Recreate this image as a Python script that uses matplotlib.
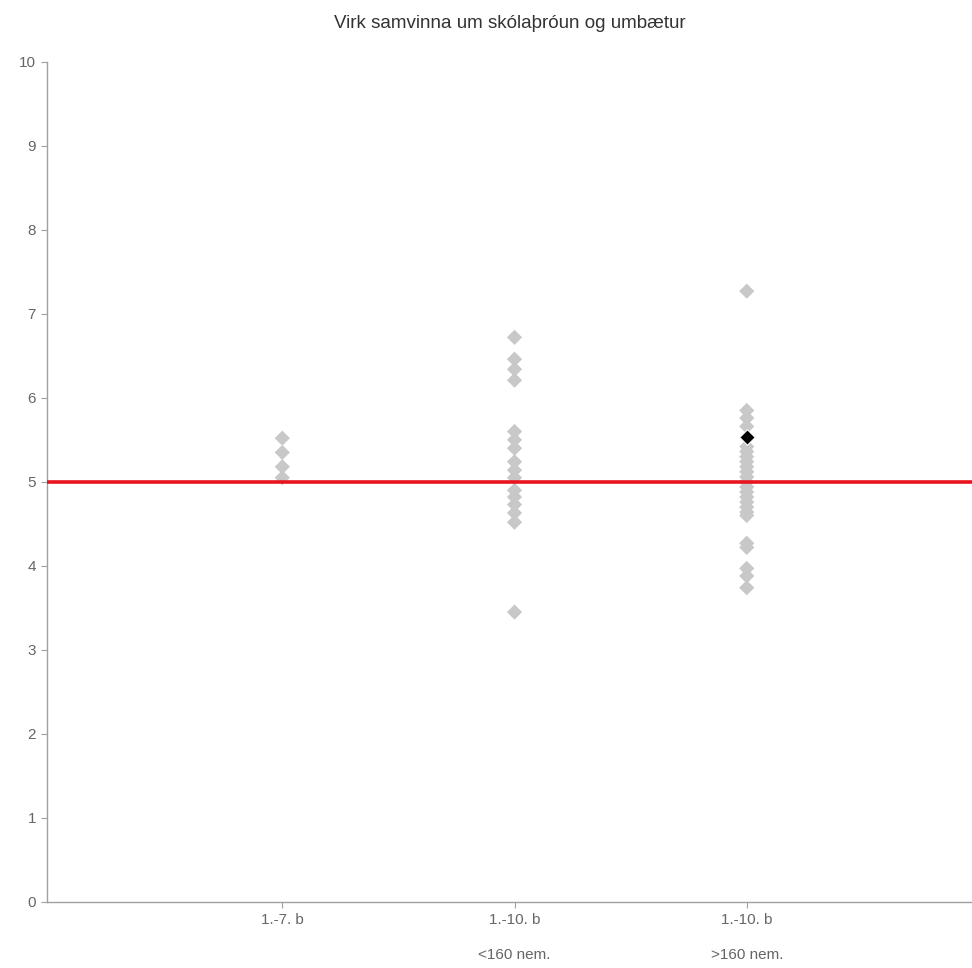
import numpy as np
import matplotlib.pyplot as plt

plt.rcParams['font.family'] = ['Liberation Sans', 'DejaVu Sans']

# category labels on the x axis
categories = ['1.-7. b', '1.-10. b\n<160 nem.', '1.-10. b\n>160 nem.']

# school scores per group
group1 = [5.52, 5.35, 5.18, 5.05]
group2 = [6.72, 6.46, 6.34, 6.21, 5.6, 5.5, 5.4, 5.24, 5.14, 5.05,
          4.9, 4.82, 4.73, 4.63, 4.52, 3.45]
group3 = [7.27, 5.85, 5.76, 5.66, 5.42, 5.36, 5.3, 5.24, 5.18, 5.12,
          5.06, 5.0, 4.94, 4.88, 4.82, 4.76, 4.7, 4.64, 4.6, 4.27, 4.22,
          3.97, 3.88, 3.74]
highlight = (3, 5.53)   # the black diamond
reference = 5.0         # red line

fig = plt.figure(figsize=(9.72, 9.68), dpi=100)
ax = fig.add_axes([0.0484, 0.0682, 0.9516, 0.868])

grey = '#c8c8c8'
for i, g in enumerate([group1, group2, group3]):
    ax.scatter(np.full(len(g), i + 1), g, marker='D', s=60, color=grey,
               edgecolors='none', zorder=2)

ax.axhline(reference, color='#e8141e', lw=2.6, zorder=3)
ax.scatter([highlight[0]], [highlight[1]], marker='D', s=62, color='black',
           edgecolors='white', linewidths=0.8, zorder=4)

ax.set_xlim(-0.013, 3.97)
ax.set_ylim(0, 10)
ax.set_yticks(range(0, 11))
ax.set_xticks([1, 2, 3])
ax.set_xticklabels(categories)
for lab in ax.get_xticklabels():
    lab.set_linespacing(2.9)
    lab.set_verticalalignment('top')

for s in ['top', 'right']:
    ax.spines[s].set_visible(False)
for s in ['left', 'bottom']:
    ax.spines[s].set_color('#a0a0a0')
    ax.spines[s].set_linewidth(1.0)
ax.tick_params(colors='#a0a0a0', labelcolor='#666666', labelsize=11,
               length=4, width=0.8, pad=4)

fig.suptitle('Virk samvinna um skólaþróun og umbætur', x=0.525, y=0.985,
             fontsize=13.5, color='#333333')

fig.savefig('out.png', dpi=100)
